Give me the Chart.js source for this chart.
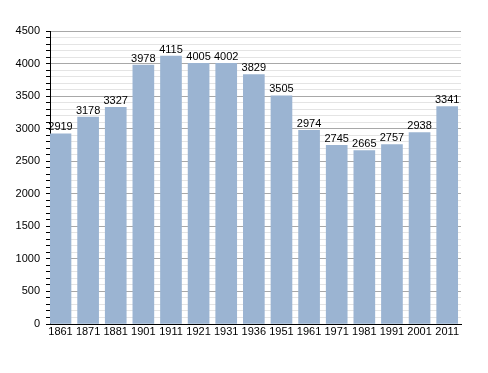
<!DOCTYPE html>
<html>
<head>
<meta charset="utf-8">
<script src="https://cdn.jsdelivr.net/npm/chart.js@4/dist/chart.umd.min.js"></script>
<style>
  html, body { margin: 0; padding: 0; background: #fff; }
  #wrap { width: 488px; height: 373px; }
</style>
</head>
<body>
<div id="wrap"><canvas id="chart"></canvas></div>
<script>
const annees = ["1861", "1871", "1881", "1901", "1911", "1921", "1931", "1936", "1951", "1961", "1971", "1981", "1991", "2001", "2011"];
const population = [2919, 3178, 3327, 3978, 4115, 4005, 4002, 3829, 3505, 2974, 2745, 2665, 2757, 2938, 3341];
const yMax = 4500;

// les barres sont placées sur un axe linéaire (index) pour coller à l'axe Y
const points = population.map((v, i) => ({ x: i, y: v }));

// etiquettes au-dessus des barres (dessinées en dernier, par-dessus l'axe)
const etiquettes = {
  id: "etiquettes",
  afterDraw(chart) {
    const ctx = chart.ctx;
    const meta = chart.getDatasetMeta(0);
    ctx.save();
    ctx.font = "11px 'Liberation Sans', Arial, sans-serif";
    ctx.fillStyle = "#000";
    ctx.textAlign = "center";
    ctx.textBaseline = "bottom";
    meta.data.forEach((bar, i) => {
      ctx.fillText(String(population[i]), bar.x, bar.y - 1);
    });
    ctx.restore();
  },
};

const ctx = document.getElementById("chart").getContext("2d");
new Chart(ctx, {
  type: "bar",
  data: {
    datasets: [
      {
        data: points,
        backgroundColor: "rgb(155, 180, 210)",
        barThickness: 21,
      },
    ],
  },
  options: {
    responsive: true,
    maintainAspectRatio: false,
    animation: false,
    layout: { padding: { left: 0, right: 27, top: 31, bottom: 0 } },
    plugins: { legend: { display: false }, tooltip: { enabled: false } },
    scales: {
      x: {
        type: "linear",
        offset: false,
        min: -0.38,
        max: annees.length - 0.5,
        afterFit: (s) => { s.height = 49; },
        afterBuildTicks: (s) => {
          s.ticks = annees.map((a, i) => ({ value: i }));
        },
        grid: { display: false, drawTicks: false },
        border: { display: true, color: "#000", width: 1 },
        ticks: {
          autoSkip: false,
          maxRotation: 0,
          color: "#000",
          padding: 1,
          font: { size: 11, family: "'Liberation Sans', Arial, sans-serif" },
          callback: (v) => annees[v],
        },
      },
      y: {
        min: 0,
        max: yMax,
        afterFit: (s) => { s.width = 50; },
        border: { display: true, color: "#000", width: 1 },
        grid: {
          color: (c) => (c.tick && c.tick.value % 500 === 0 ? "#a8a8a8" : "#e4e4e4"),
          tickColor: "#000",
          tickLength: 4,
        },
        ticks: {
          stepSize: 100,
          autoSkip: false,
          color: "#000",
          padding: 6,
          font: { size: 11, family: "'Liberation Sans', Arial, sans-serif" },
          callback: (v) => (v % 500 === 0 ? v : ""),
        },
      },
    },
  },
  plugins: [etiquettes],
});
</script>
</body>
</html>
